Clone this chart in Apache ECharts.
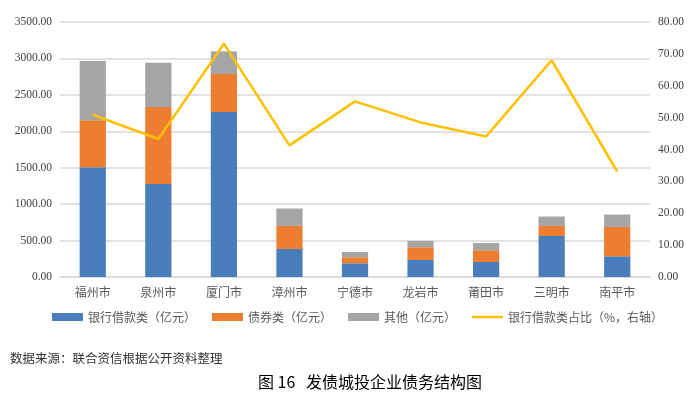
<!DOCTYPE html>
<html>
<head>
<meta charset="utf-8">
<script src="https://cdn.jsdelivr.net/npm/echarts@6/dist/echarts.min.js"></script>
<style>html,body{margin:0;padding:0;background:#fff}#c{width:700px;height:394px}</style>
</head>
<body>
<div id="c"></div>
<script>
var categories = ['福州市','泉州市','厦门市','漳州市','宁德市','龙岩市','莆田市','三明市','南平市'];
var bankLoans = [1505, 1278, 2263, 385, 188, 234, 206, 563, 284];
var bonds = [645, 1054, 522, 316, 83, 174, 161, 138, 403];
var others = [815, 609, 312, 239, 73, 87, 100, 129, 170];
var bankShare = [50.9, 43.3, 73.2, 41.3, 55.1, 48.5, 44.1, 68.0, 33.1];
var seriesNames = ['银行借款类（亿元）','债券类（亿元）','其他（亿元）','银行借款类占比（%，右轴）'];
var sourceText = '数据来源：联合资信根据公开资料整理';
var chartTitle = '图 16   发债城投企业债务结构图';

var chart = echarts.init(document.getElementById('c'), null, {renderer:'canvas'});
var serif = '"Liberation Serif", "Times New Roman", serif';
var cjk = '"Noto Sans CJK SC", sans-serif';
chart.setOption({
  animation: false,
  backgroundColor: '#fff',
  title: [
    {text: sourceText, left: 5, top: 347, textStyle: {fontFamily: cjk, fontSize: 12.5, fontWeight: 'normal', color: '#333'}},
    {text: chartTitle, left: 253, top: 369, textStyle: {fontFamily: cjk, fontSize: 16, fontWeight: 'normal', color: '#000'}}
  ],
  grid: {left: 60, right: 50, top: 22, bottom: 117},
  legend: {
    top: 306, left: 47,
    itemWidth: 31, itemHeight: 8, itemGap: 16,
    textStyle: {fontFamily: cjk, fontSize: 12, color: '#595959'},
    data: [
      {name: seriesNames[0], icon: 'rect'},
      {name: seriesNames[1], icon: 'rect'},
      {name: seriesNames[2], icon: 'rect'},
      {name: seriesNames[3], icon: 'path://M0,0L32,0L32,2.5L0,2.5Z', itemStyle: {color: '#ffc000'}}
    ]
  },
  xAxis: {
    type: 'category', data: categories,
    axisLine: {show: true, lineStyle: {color: '#d9d9d9', width: 1.5}},
    axisTick: {show: false},
    axisLabel: {fontFamily: cjk, fontSize: 12, color: '#595959', margin: 9}
  },
  yAxis: [
    {type: 'value', min: 0, max: 3500, interval: 500,
     axisLabel: {formatter: function(v){return v.toFixed(2);}, fontFamily: serif, fontSize: 11.5, color: '#404040', margin: 8},
     splitLine: {lineStyle: {color: '#d9d9d9', width: 1.5}},
     axisLine: {show: false}, axisTick: {show: false}},
    {type: 'value', min: 0, max: 80, interval: 10, position: 'right',
     axisLabel: {formatter: function(v){return v.toFixed(2);}, fontFamily: serif, fontSize: 11.5, color: '#404040', margin: 8},
     splitLine: {show: false}, axisLine: {show: false}, axisTick: {show: false}}
  ],
  series: [
    {name: seriesNames[0], type: 'bar', stack: 'a', data: bankLoans, barWidth: '40%', itemStyle: {color: '#4a7ebb'}},
    {name: seriesNames[1], type: 'bar', stack: 'a', data: bonds, itemStyle: {color: '#ed7d31'}},
    {name: seriesNames[2], type: 'bar', stack: 'a', data: others, itemStyle: {color: '#a5a5a5'}},
    {name: seriesNames[3], type: 'line', yAxisIndex: 1, data: bankShare, symbol: 'none',
     lineStyle: {color: '#ffc000', width: 2.5}, itemStyle: {color: '#ffc000'}}
  ]
});
</script>
</body>
</html>
